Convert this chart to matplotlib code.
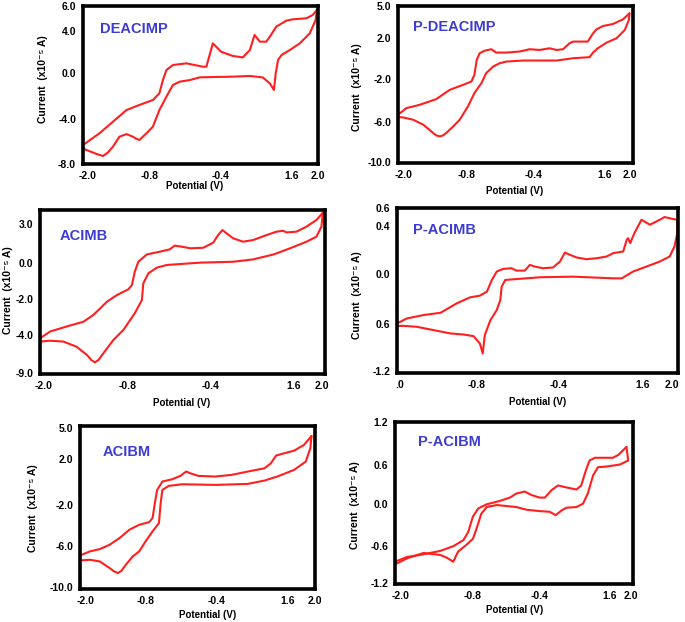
import matplotlib
matplotlib.use("Agg")
import matplotlib.pyplot as plt

plt.rcParams['font.family'] = ['Liberation Sans', 'DejaVu Sans']
plt.rcParams['font.weight'] = 'bold'

W, H = 685, 622

# ---------------- data (potential V, current in panel units) ----------------
titles = ["DEACIMP", "P-DEACIMP", "ACIMB", "P-ACIMB", "ACIBM", "P-ACIBM"]

# Panel 1: DEACIMP
p1_up_x = [-2.0, -1.72, -1.49, -1.26, -1.04, -0.81, -0.70, -0.64, -0.58, -0.47, -0.24, 0.04, 0.10, 0.21, 0.35, 0.55, 0.72, 0.84, 0.92, 1.01, 1.12, 1.18, 1.29, 1.46, 1.57, 1.80, 1.91, 1.98]
p1_up_y = [-6.32, -5.28, -4.25, -3.22, -2.77, -2.33, -1.74, -0.56, 0.33, 0.77, 0.92, 0.62, 0.62, 2.69, 1.95, 1.57, 1.45, 2.10, 3.43, 2.84, 2.84, 3.28, 4.17, 4.70, 4.82, 4.91, 5.20, 5.65]
p1_dn_x = [1.98, 1.96, 1.86, 1.69, 1.52, 1.38, 1.32, 1.28, 1.25, 1.18, 1.06, 0.84, 0.55, -0.01, -0.18, -0.35, -0.47, -0.55, -0.70, -0.81, -0.92, -1.04, -1.10, -1.15, -1.26, -1.38, -1.49, -1.58, -1.66, -1.77, -1.94, -2.0]
p1_dn_y = [5.65, 4.76, 3.58, 2.69, 2.10, 1.66, 1.22, 0.03, -1.44, -0.85, -0.33, -0.20, -0.26, -0.32, -0.56, -0.70, -1.00, -1.74, -3.22, -4.69, -5.28, -5.87, -5.75, -5.58, -5.35, -5.58, -6.46, -7.00, -7.29, -7.11, -6.76, -6.61]

# Panel 2: P-DEACIMP
p2_up_x = [-2.0, -1.86, -1.63, -1.35, -1.12, -0.89, -0.75, -0.70, -0.66, -0.61, -0.52, -0.41, -0.33, -0.16, 0.07, 0.24, 0.41, 0.58, 0.70, 0.81, 0.92, 0.98, 1.09, 1.23, 1.32, 1.38, 1.49, 1.66, 1.83, 1.94]
p2_up_y = [-5.39, -4.76, -4.44, -3.90, -3.01, -2.53, -2.21, -1.58, -0.15, 0.49, 0.74, 0.87, 0.55, 0.55, 0.65, 0.87, 0.80, 0.96, 0.80, 0.87, 1.44, 1.60, 1.60, 1.60, 2.39, 2.78, 3.09, 3.28, 3.73, 4.30]
p2_dn_x = [1.94, 1.93, 1.86, 1.72, 1.55, 1.40, 1.32, 1.26, 0.98, 0.70, 0.13, -0.16, -0.27, -0.38, -0.50, -0.58, -0.70, -0.81, -0.95, -1.06, -1.18, -1.24, -1.29, -1.35, -1.40, -1.57, -1.74, -1.91, -2.0]
p2_dn_y = [4.30, 3.67, 2.71, 1.92, 1.50, 0.96, 0.55, 0.11, 0.01, -0.21, -0.21, -0.31, -0.47, -0.78, -1.42, -2.37, -3.33, -4.60, -5.87, -6.50, -7.14, -7.38, -7.46, -7.36, -7.14, -6.34, -5.87, -5.65, -5.61]

# Panel 3: ACIMB
p3_up_x = [-2.0, -1.86, -1.63, -1.39, -1.25, -1.06, -0.92, -0.76, -0.71, -0.67, -0.62, -0.50, -0.32, -0.18, -0.11, -0.01, 0.11, 0.29, 0.43, 0.50, 0.56, 0.62, 0.71, 0.85, 0.99, 1.18, 1.32, 1.41, 1.46, 1.60, 1.74, 1.88, 1.97]
p3_up_y = [-4.19, -3.81, -3.53, -3.26, -2.88, -2.14, -1.77, -1.45, -1.21, -0.47, 0.09, 0.50, 0.65, 0.78, 0.99, 0.93, 0.84, 0.87, 1.15, 1.58, 1.86, 1.67, 1.40, 1.21, 1.30, 1.58, 1.77, 1.82, 1.73, 1.77, 2.05, 2.42, 2.83]
p3_dn_x = [1.97, 1.95, 1.88, 1.74, 1.51, 1.28, 0.99, 0.71, 0.25, -0.22, -0.36, -0.48, -0.55, -0.57, -0.67, -0.83, -0.97, -1.11, -1.18, -1.23, -1.28, -1.34, -1.49, -1.67, -1.86, -2.0]
p3_dn_y = [2.83, 2.05, 1.49, 1.21, 0.84, 0.50, 0.22, 0.09, 0.04, -0.09, -0.24, -0.56, -1.12, -2.05, -2.79, -3.72, -4.28, -5.02, -5.40, -5.53, -5.40, -5.12, -4.65, -4.37, -4.32, -4.37]

# Panel 4: P-ACIMB
p4_up_x = [-2.0, -1.86, -1.62, -1.38, -1.15, -0.96, -0.82, -0.72, -0.65, -0.58, -0.49, -0.37, -0.30, -0.18, -0.11, -0.04, 0.08, 0.22, 0.32, 0.39, 0.46, 0.56, 0.70, 0.84, 0.98, 1.08, 1.22, 1.27, 1.29, 1.32, 1.38, 1.48, 1.60, 1.74, 1.81, 1.93, 1.99]
p4_up_y = [-0.417, -0.375, -0.346, -0.327, -0.248, -0.197, -0.183, -0.149, -0.051, 0.020, 0.042, 0.048, 0.028, 0.028, 0.076, 0.062, 0.048, 0.054, 0.104, 0.180, 0.161, 0.138, 0.124, 0.132, 0.146, 0.175, 0.189, 0.287, 0.301, 0.259, 0.344, 0.456, 0.414, 0.456, 0.479, 0.462, 0.456]
p4_dn_x = [1.99, 1.99, 1.95, 1.88, 1.74, 1.55, 1.36, 1.20, 1.08, 0.51, 0.04, -0.34, -0.46, -0.51, -0.53, -0.58, -0.67, -0.75, -0.78, -0.82, -0.91, -1.05, -1.24, -1.48, -1.72, -1.91, -2.0]
p4_dn_y = [0.456, 0.344, 0.231, 0.146, 0.104, 0.062, 0.020, -0.037, -0.037, -0.023, -0.028, -0.045, -0.051, -0.107, -0.220, -0.304, -0.389, -0.515, -0.670, -0.586, -0.524, -0.510, -0.501, -0.473, -0.445, -0.437, -0.439]

# Panel 5: ACIBM
p5_up_x = [-2.0, -1.83, -1.66, -1.49, -1.32, -1.15, -0.98, -0.81, -0.75, -0.71, -0.67, -0.58, -0.41, -0.27, -0.17, -0.10, 0.04, 0.33, 0.61, 0.95, 1.18, 1.29, 1.38, 1.52, 1.69, 1.86, 1.99]
p5_up_y = [-6.91, -6.54, -6.33, -5.93, -5.32, -4.55, -4.09, -3.85, -3.48, -2.10, -0.88, -0.11, 0.10, 0.41, 0.81, 0.65, 0.41, 0.35, 0.50, 0.87, 1.11, 1.57, 2.28, 2.49, 2.73, 3.26, 4.08]
p5_dn_x = [1.99, 1.97, 1.89, 1.69, 1.40, 1.18, 0.89, 0.33, -0.24, -0.47, -0.58, -0.61, -0.64, -0.75, -0.87, -0.98, -1.09, -1.21, -1.29, -1.35, -1.42, -1.49, -1.66, -1.83, -2.0]
p5_dn_y = [4.08, 2.95, 1.72, 0.96, 0.35, -0.02, -0.33, -0.42, -0.36, -0.51, -0.88, -2.10, -3.94, -4.70, -5.62, -6.54, -7.00, -7.77, -8.35, -8.53, -8.35, -8.07, -7.46, -7.31, -7.37]

# Panel 6: P-ACIBM
p6_up_x = [-2.0, -1.80, -1.52, -1.24, -1.02, -0.85, -0.77, -0.69, -0.60, -0.46, -0.24, -0.07, 0.04, 0.18, 0.29, 0.43, 0.52, 0.63, 0.74, 0.88, 1.05, 1.13, 1.21, 1.27, 1.36, 1.66, 1.75, 1.89]
p6_up_y = [-0.87, -0.80, -0.76, -0.71, -0.64, -0.55, -0.43, -0.20, -0.08, -0.02, 0.03, 0.08, 0.14, 0.17, 0.12, 0.08, 0.08, 0.19, 0.26, 0.23, 0.20, 0.26, 0.49, 0.63, 0.67, 0.67, 0.71, 0.83]
p6_dn_x = [1.89, 1.92, 1.78, 1.55, 1.41, 1.33, 1.24, 1.16, 1.05, 0.88, 0.80, 0.70, 0.60, 0.43, 0.21, 0.04, -0.29, -0.46, -0.55, -0.63, -0.69, -0.80, -0.94, -1.02, -1.13, -1.24, -1.52, -1.80, -2.0]
p6_dn_y = [0.83, 0.63, 0.57, 0.54, 0.53, 0.41, 0.14, -0.01, -0.06, -0.07, -0.11, -0.18, -0.13, -0.12, -0.10, -0.06, -0.03, -0.06, -0.16, -0.38, -0.53, -0.62, -0.72, -0.87, -0.81, -0.77, -0.74, -0.82, -0.91]

# tick positions (in axis units) and their printed labels
xtick_pos = [
    [-1.93, -0.87, 0.35, 1.55, 2.0],
    [-1.91, -0.84, 0.30, 1.52, 1.95],
    [-1.95, -0.77, 0.39, 1.56, 1.95],
    [-1.96, -0.86, 0.30, 1.50, 1.91],
    [-1.91, -0.87, 0.35, 1.57, 2.05],
    [-1.90, -0.70, 0.43, 1.61, 1.97],
]
xtick_lab = [
    ["-2.0", "-0.8", "-0.4", "1.6", "2.0"],
    ["-2.0", "-0.8", "-0.4", "1.6", "2.0"],
    ["-2.0", "-0.8", "-0.4", "1.6", "2.0"],
    [".0", "-0.8", "-0.4", "1.6", "2.0"],
    ["-2.0", "-0.8", "-0.4", "1.6", "2.0"],
    ["-2.0", "-0.8", "-0.4", "1.6", "2.0"],
]
ytick_pos = [
    [6.0, 3.78, 0.03, -4.01, -8.0],
    [5.0, 1.98, -1.96, -6.12, -9.94],
    [2.195, 0.0, -1.99, -4.0, -6.10],
    [0.555, 0.40, 0.0, -0.423, -0.817],
    [4.79, 1.94, -2.26, -6.02, -9.82],
    [1.2, 0.56, -0.02, -0.64, -1.19],
]
ytick_lab = [
    ["6.0", "4.0", "0.0", "-4.0", "-8.0"],
    ["5.0", "2.0", "-2.0", "-6.0", "-10.0"],
    ["3.0", "0.0", "-2.0", "-4.0", "-9.0"],
    ["0.6", "0.4", "0.0", "0.6", "-1.2"],
    ["5.0", "2.0", "-2.0", "-6.0", "-10.0"],
    ["1.2", "0.6", "0.0", "-0.6", "-1.2"],
]
ylims = [(-8.0, 6.0), (-10.0, 5.0), (-6.18, 2.98), (-0.834, 0.555), (-10.0, 5.0), (-1.2, 1.2)]

curves = [
    (p1_up_x, p1_up_y, p1_dn_x, p1_dn_y),
    (p2_up_x, p2_up_y, p2_dn_x, p2_dn_y),
    (p3_up_x, p3_up_y, p3_dn_x, p3_dn_y),
    (p4_up_x, p4_up_y, p4_dn_x, p4_dn_y),
    (p5_up_x, p5_up_y, p5_dn_x, p5_dn_y),
    (p6_up_x, p6_up_y, p6_dn_x, p6_dn_y),
]

# ---------------- layout (pixel boxes: left, right, top, bottom) ----------------
boxes = [
    (83, 318, 6, 164),
    (398, 633, 6, 163),
    (40, 325, 210, 374),
    (397, 678, 208, 373),
    (80, 315, 426, 589),
    (395, 633, 422, 584),
]
title_pos = [(100, 29), (413, 27), (60, 236), (413, 230), (103, 452), (418, 442)]
xlabel_pos = [(195, 186), (515, 191), (182, 403), (538, 402), (208, 615), (515, 610)]
ylabel_pos = [(43, 79), (357, 87), (8, 290), (357, 295), (33, 508), (355, 505)]

RED = "#ff1f1f"
BLUE = "#3c3cd2"

fig = plt.figure(figsize=(W / 100, H / 100), dpi=100)

for i in range(6):
    l, r, t, b = boxes[i]
    ax = fig.add_axes([l / W, 1 - b / H, (r - l) / W, (b - t) / H])
    ux, uy, dx, dy = curves[i]
    ax.plot(ux, uy, color=RED, lw=1.5, solid_joinstyle='round', solid_capstyle='round')
    ax.plot(dx, dy, color=RED, lw=1.5, solid_joinstyle='round', solid_capstyle='round')
    ax.set_xlim(-2.0, 2.0)
    ax.set_ylim(*ylims[i])
    ax.set_xticks(xtick_pos[i])
    ax.set_xticklabels(xtick_lab[i])
    ax.set_yticks(ytick_pos[i])
    ax.set_yticklabels(ytick_lab[i])
    ax.tick_params(length=0, labelsize=7.5, pad=5)
    for lab in ax.get_xticklabels() + ax.get_yticklabels():
        lab.set_fontweight('bold')
    for sp in ax.spines.values():
        sp.set_linewidth(2.6)
        sp.set_color("black")
    ax.set_facecolor("white")

    tx, ty = title_pos[i]
    fig.text(tx / W, 1 - ty / H, titles[i], color=BLUE, fontsize=10.5,
             fontweight='bold', ha='left', va='center')
    xx, xy = xlabel_pos[i]
    fig.text(xx / W, 1 - xy / H, "Potential (V)", fontsize=7, fontweight='bold',
             ha='center', va='center')
    yx, yy = ylabel_pos[i]
    fig.text(yx / W, 1 - yy / H, "Current  (x10\u207b\u2075 A)", fontsize=7.5,
             fontweight='bold', rotation=90, ha='center', va='center')

fig.savefig("out.png", dpi=100, facecolor="white")
